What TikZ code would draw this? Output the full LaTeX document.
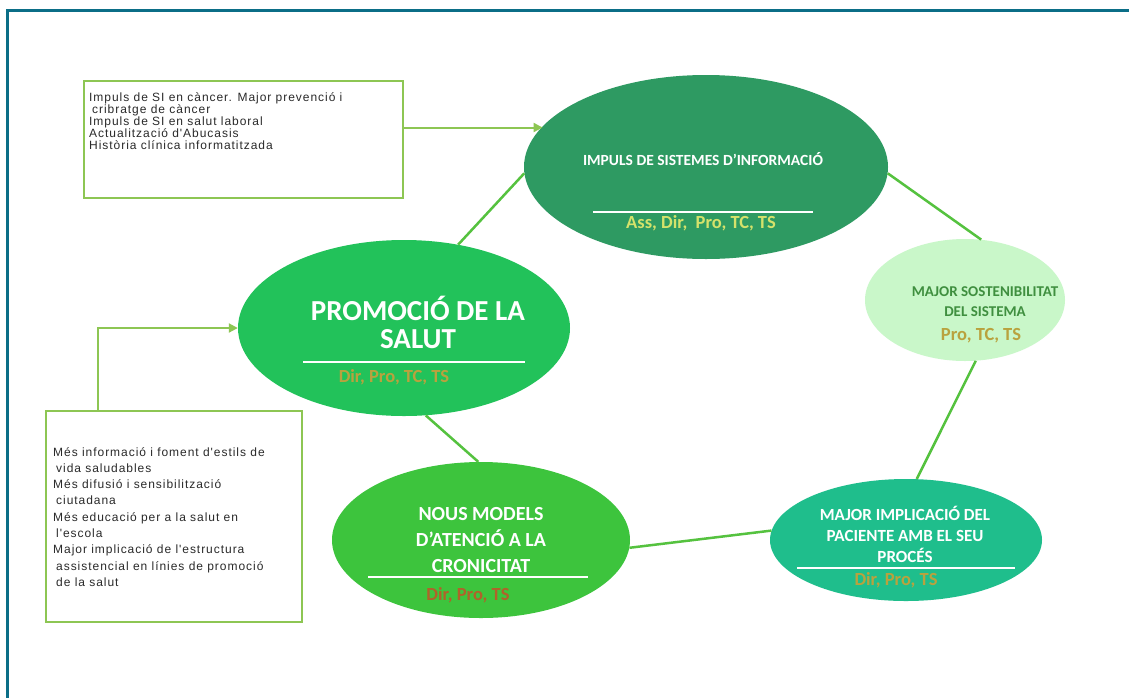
\documentclass[tikz,border=0pt]{standalone}
\usepackage{fontspec}
\setmainfont{Carlito}
\newfontfamily\boxfont[LetterSpace=8]{Liberation Sans}
\usetikzlibrary{shapes.geometric,arrows.meta}
\definecolor{frameteal}{HTML}{0B6E87}
\definecolor{boxgreen}{HTML}{8DC653}
\definecolor{linkgreen}{HTML}{55C23F}
\definecolor{boxtext}{HTML}{2A2A2A}
\definecolor{impulsfill}{HTML}{2E9A62}
\definecolor{sostfill}{HTML}{C9F7C9}
\definecolor{sosttext}{HTML}{3F8F3F}
\definecolor{promofill}{HTML}{22C25A}
\definecolor{nousfill}{HTML}{3DC43D}
\definecolor{pacfill}{HTML}{1FBE8C}
\definecolor{whoyellow}{HTML}{D5E26B}
\definecolor{whoolive}{HTML}{B9A23E}
\definecolor{whobrown}{HTML}{B0622A}
\begin{document}
\begin{tikzpicture}[x=1pt,y=-1pt]
\tikzstyle{bubble}=[ellipse,inner sep=0pt]
\tikzstyle{infobox}=[draw=boxgreen,line width=2pt,anchor=north west,inner sep=0pt]
\tikzstyle{infotext}=[anchor=north west,align=left,inner sep=0pt,text=boxtext]
\tikzstyle{title}=[align=center,text=white,inner sep=0pt]
\tikzstyle{who}=[inner sep=0pt,font=\bfseries\fontsize{18.5}{20}\selectfont]
\tikzstyle{link}=[draw=linkgreen,line width=2.5pt]
\tikzstyle{arr}=[draw=boxgreen,line width=2pt,-{Triangle[length=9pt,width=9pt]}]
\tikzstyle{uline}=[draw=white,line width=1.5pt]

\useasboundingbox (0,0) rectangle (1129,697);
\fill[white] (0,0) rectangle (1129,697);
\draw[frameteal,line width=3pt] (7,700) -- (7,10) -- (1132,10);

% the five bubbles
\node[bubble,fill=impulsfill,minimum width=364,minimum height=184] at (706,167) (impuls) {};
\node[bubble,fill=sostfill,minimum width=200,minimum height=122] at (965,300) (sost) {};
\node[bubble,fill=promofill,minimum width=332,minimum height=176] at (404,328) (promo) {};
\node[bubble,fill=nousfill,minimum width=298,minimum height=156] at (481,540) (nous) {};
\node[bubble,fill=pacfill,minimum width=272,minimum height=122] at (906,540) (pacient) {};

\node[title,font=\bfseries\fontsize{15.5}{17}\selectfont] at (703,159) (impulst) {IMPULS DE SISTEMES D'INFORMACIÓ};
\draw[uline] (593,212) -- (813,212);
\node[who,text=whoyellow] at (701,223) (impulsw) {Ass, Dir,\ \ Pro, TC, TS};

\node[title,text=sosttext,font=\bfseries\fontsize{15}{20}\selectfont] at (985,302) (sostt) {MAJOR SOSTENIBILITAT\\DEL SISTEMA};
\node[who,text=whoolive] at (981,336) (sostw) {Pro, TC, TS};

\node[title,font=\bfseries\fontsize{29}{28}\selectfont] at (418,322) (promot) {PROMOCIÓ DE LA\\SALUT};
\draw[uline] (303,362) -- (525,362);
\node[who,text=whoolive] at (394,377) (promow) {Dir, Pro, TC, TS};

\node[title,font=\bfseries\fontsize{20}{26}\selectfont] at (481,540) (noust) {NOUS MODELS\\D'ATENCIÓ A LA\\CRONICITAT};
\draw[uline] (368,577) -- (588,577);
\node[who,text=whobrown] at (468,595) (nousw) {Dir, Pro, TS};

\node[title,font=\bfseries\fontsize{17}{21}\selectfont] at (905,534) (pacientt) {MAJOR IMPLICACIÓ DEL\\PACIENTE AMB EL SEU\\PROCÉS};
\draw[uline] (797,568) -- (1015,568);
\node[who,text=whoolive] at (896,580) (pacientw) {Dir, Pro, TS};

% side boxes
\node[infobox,minimum width=319,minimum height=117] at (83,80) (box1) {};
\node[infotext,font=\boxfont\fontsize{12}{12}\selectfont] at (89,92) (box1txt) {Impuls de SI en càncer. Major prevenció i\\
\hspace*{3pt}cribratge de càncer\\
Impuls de SI en salut laboral\\
Actualització d'Abucasis\\
Història clínica informatitzada};

\node[infobox,minimum width=256,minimum height=211] at (45,410) (box2) {};
\node[infotext,font=\boxfont\fontsize{12}{16.3}\selectfont] at (53,447) (box2txt) {Més informació i foment d'estils de\\
\hspace*{3pt}vida saludables\\
Més difusió i sensibilització\\
\hspace*{3pt}ciutadana\\
Més educació per a la salut en\\
\hspace*{3pt}l'escola\\
Major implicació de l'estructura\\
\hspace*{3pt}assistencial en línies de promoció\\
\hspace*{3pt}de la salut};

% links
\draw[link] (promo.57) -- (impuls.182);
\draw[link] (impuls.-2) -- (sost.75);
\draw[link] (sost.-80) -- (pacient.80);
\draw[link] (pacient.176) -- (nous.-3);
\draw[link] (promo.-76) -- (nous.92);

\draw[arr] ([yshift=12pt]box1.east) -- ([yshift=12pt]box1.east -| impuls.166);
\draw[arr] ([xshift=-76pt]box2.north) |- (promo.west);
\end{tikzpicture}
\end{document}
